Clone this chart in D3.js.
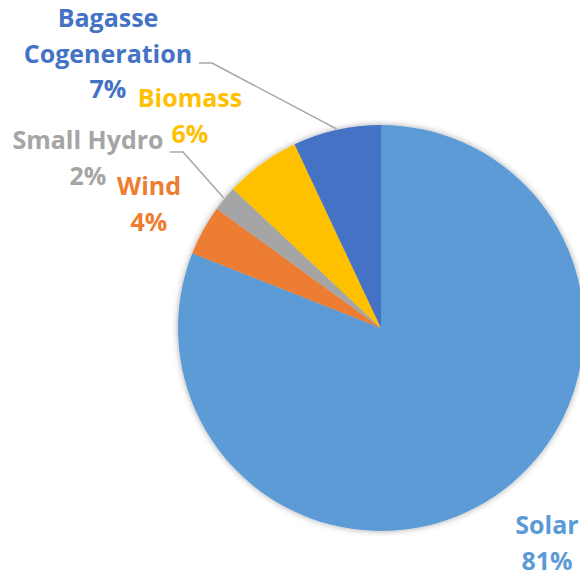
<!DOCTYPE html>
<html>
<head>
<meta charset="utf-8">
<script src="https://cdn.jsdelivr.net/npm/d3@7"></script>
<style>
  html, body { margin: 0; padding: 0; background: #fff; }
  svg { display: block; }
  text { font-family: "Open Sans", Lato, sans-serif; font-weight: 700; }
</style>
</head>
<body>
<svg id="chart" width="580" height="575"></svg>
<script>
// Renewable capacity mix (percent share)
const categories = ["Solar", "Wind", "Small Hydro", "Biomass", "Bagasse Cogeneration"];
const shares = [81, 4, 2, 6, 7];
const colors = ["#5B9BD5", "#ED7D31", "#A5A5A5", "#FFC000", "#4472C4"];

// label lines per slice: name lines then percentage
const labelLines = [
  ["Solar"],
  ["Wind"],
  ["Small Hydro"],
  ["Biomass"],
  ["Bagasse", "Cogeneration"]
];
// label anchor (center x, first baseline y)
const labelPos = [
  [547, 534],
  [149, 195],
  [88, 149],
  [190, 107],
  [108, 27]
];

const svg = d3.select("#chart");
const cx = 381, cy = 328, r = 203;

const defs = svg.append("defs");
const f = defs.append("filter").attr("id", "shadow")
  .attr("x", "-20%").attr("y", "-20%").attr("width", "140%").attr("height", "140%");
f.append("feDropShadow").attr("dx", 0).attr("dy", 0).attr("stdDeviation", 3)
  .attr("flood-color", "#000").attr("flood-opacity", 0.35);

const data = categories.map((c, i) => ({ name: c, value: shares[i], color: colors[i], i }));

const pie = d3.pie().value(d => d.value).sort(null);
const arc = d3.arc().innerRadius(0).outerRadius(r);
const arcs = pie(data);

const g = svg.append("g").attr("transform", `translate(${cx},${cy})`);
const slices = g.append("g").attr("filter", "url(#shadow)");
slices.selectAll("path").data(arcs).join("path")
  .attr("d", arc)
  .attr("fill", d => d.data.color);

// leader lines for the small slices with labels set further out
const leaderFor = { 2: [[170, 152], [183, 152]], 4: [[199, 63], [212, 63]] };
Object.keys(leaderFor).forEach(k => {
  const a = arcs[+k];
  const mid = (a.startAngle + a.endAngle) / 2;
  const ex = cx + Math.sin(mid) * (r + 1);
  const ey = cy - Math.cos(mid) * (r + 1);
  const pts = leaderFor[k].concat([[ex, ey]]);
  svg.append("path")
    .attr("d", d3.line()(pts))
    .attr("fill", "none")
    .attr("stroke", "#A5A5A5")
    .attr("stroke-width", 1.5);
});

// category labels with percentages
data.forEach((d, i) => {
  const [x, y] = labelPos[i];
  const lines = labelLines[i].concat([d.value + "%"]);
  const t = svg.append("text")
    .attr("text-anchor", "middle")
    .attr("fill", d.color)
    .attr("font-size", 25);
  lines.forEach((ln, j) => {
    t.append("tspan").attr("x", x).attr("y", y + j * 35.5).text(ln);
  });
});
</script>
</body>
</html>
